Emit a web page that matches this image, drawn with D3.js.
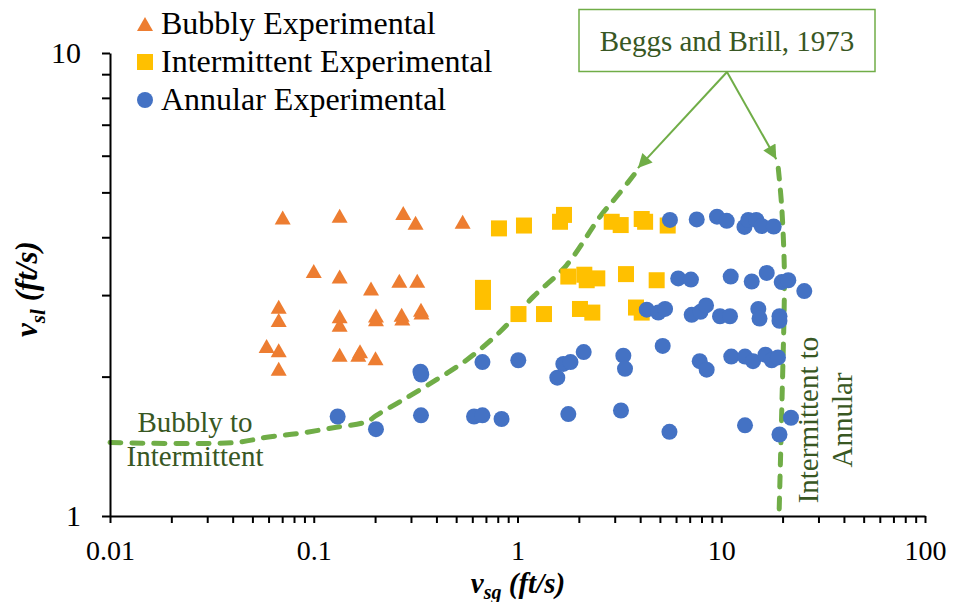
<!DOCTYPE html>
<html>
<head>
<meta charset="utf-8">
<script src="https://cdn.jsdelivr.net/npm/d3@7"></script>
<style>
  html, body { margin: 0; padding: 0; background: #fff; }
  svg { display: block; }
  svg text { font-family: "Liberation Serif", "Times New Roman", Tinos, "DejaVu Serif", "Noto Serif", serif; }
</style>
</head>
<body>
<svg id="chart" width="953" height="602"></svg>
<script>
// ---- Data ----
const seriesNames = ["Bubbly Experimental", "Intermittent Experimental", "Annular Experimental"];

const bubbly = [
  [0.0704,4.41],[0.134,4.45],[0.275,4.51],[0.316,4.30],[0.538,4.32],
  [0.100,3.38],[0.134,3.29],[0.191,3.10],[0.263,3.22],[0.322,3.22],
  [0.0673,2.83],[0.0673,2.65],[0.134,2.70],[0.134,2.59],[0.202,2.71],[0.202,2.66],
  [0.270,2.72],[0.272,2.67],[0.336,2.79],[0.338,2.75],
  [0.0587,2.33],[0.0673,2.28],[0.0673,2.08],[0.134,2.23],[0.1687,2.27],[0.1655,2.23],[0.201,2.19]
];

const intermittent = [
  [0.811,4.18],[1.076,4.24],[1.617,4.32],[1.691,4.47],[2.90,4.32],[3.21,4.25],[4.07,4.38],[4.23,4.32],[5.46,4.24],
  [0.677,3.11],[0.677,2.90],[1.776,3.29],[2.128,3.32],[2.186,3.23],[2.464,3.26],[3.408,3.33],[4.82,3.23],
  [1.011,2.73],[1.349,2.73],[2.026,2.80],[2.329,2.75],[3.816,2.82],[4.07,2.75]
];

const annular = [
  [5.60,4.36],[7.58,4.37],[9.53,4.43],[10.64,4.34],[13.0,4.21],[13.58,4.36],[14.86,4.36],[15.79,4.23],[18.09,4.22],
  [6.15,3.26],[7.10,3.24],[11.13,3.29],[14.11,3.21],[16.72,3.35],[19.80,3.20],[21.34,3.23],[25.56,3.06],
  [4.31,2.79],[4.91,2.75],[5.30,2.80],[7.16,2.72],[7.91,2.76],[8.42,2.85],[9.86,2.70],[11.04,2.70],[15.20,2.80],[15.41,2.67],[19.31,2.70],[19.31,2.64],
  [0.334,2.05],[0.337,2.02],[0.673,2.15],[1.009,2.17],[1.568,1.99],[1.678,2.13],[1.820,2.15],[2.113,2.26],[3.307,2.22],[3.370,2.08],
  [5.16,2.33],[7.84,2.16],[8.48,2.07],[11.20,2.21],[13.08,2.21],[14.32,2.16],[16.49,2.23],[17.69,2.17],[18.99,2.20],
  [0.131,1.64],[0.202,1.54],[0.336,1.65],[0.612,1.64],[0.673,1.65],[0.835,1.62],[1.776,1.66],[3.22,1.69],[5.57,1.52],[13.08,1.57],[19.31,1.50],[21.99,1.63]
];

// Beggs and Brill (1973) boundaries
const bubblyToIntermittent = [
  [0.01,1.441],[0.0402,1.44],[0.0588,1.479],[0.0856,1.509],[0.1247,1.551],[0.182,1.598],[0.204,1.652],
  [0.265,1.766],[0.386,1.950],[0.563,2.173],[0.821,2.50],[1.196,2.977],[1.744,3.484],[2.54,4.43],[3.12,4.94],[3.99,5.67]
];
const intermittentToAnnular = [
  [19.05,5.64],[19.80,4.66],[20.39,3.454],[20.39,2.93],[19.87,1.78],[19.21,1.0]
];

const xTickValues = [0.01,0.02,0.03,0.04,0.05,0.06,0.07,0.08,0.09,
                     0.1,0.2,0.3,0.4,0.5,0.6,0.7,0.8,0.9,
                     1,2,3,4,5,6,7,8,9,10,20,30,40,50,60,70,80,90,100];
const xTickLabels = ["0.01","0.1","1","10","100"];
const yTickValues = [1,2,3,4,5,6,7,8,9,10];
const yTickLabels = ["1","10"];

// ---- Styles ----
const colors = { bubbly: "#ED7D31", intermittent: "#FFC000", annular: "#4472C4", line: "#70AD47", text: "#385723" };
const serif = "'Liberation Serif', 'Times New Roman', Tinos, 'DejaVu Serif', 'Noto Serif', serif";

const svg = d3.select("#chart");

const x = d3.scaleLog().domain([0.01, 100]).range([110, 925]);
const y = d3.scaleLog().domain([1, 10]).range([516, 53]);

// ---- Boundary lines (drawn beneath markers) ----
const lineGen = d3.line().x(d => x(d[0])).y(d => y(d[1])).curve(d3.curveCatmullRom.alpha(0.5));
svg.append("path").datum(bubblyToIntermittent)
  .attr("d", lineGen).attr("fill", "none").attr("stroke", colors.line)
  .attr("stroke-width", 5).attr("stroke-linecap", "round").attr("stroke-dasharray", "11 11");
svg.append("path").datum(intermittentToAnnular)
  .attr("d", lineGen).attr("fill", "none").attr("stroke", colors.line)
  .attr("stroke-width", 5).attr("stroke-linecap", "round").attr("stroke-dasharray", "11 11");

// ---- Axes ----
const fmtX = v => { const s = d3.format("~g")(v); return xTickLabels.includes(s) ? s : ""; };
const fmtY = v => { const s = d3.format("~g")(v); return yTickLabels.includes(s) ? s : ""; };

const xAxis = svg.append("g").attr("transform", "translate(0,516)")
  .call(d3.axisBottom(x).tickValues(xTickValues).tickFormat(fmtX).tickSize(7).tickSizeOuter(0).tickPadding(17));
const yAxis = svg.append("g").attr("transform", "translate(110,0)")
  .call(d3.axisLeft(y).tickValues(yTickValues).tickFormat(fmtY).tickSize(8).tickSizeOuter(0).tickPadding(21));

[xAxis, yAxis].forEach(g => {
  g.attr("font-family", serif);
  g.select(".domain").attr("stroke", "#000").attr("stroke-width", 2);
  g.selectAll(".tick line").attr("stroke", "#000").attr("stroke-width", 2);
  g.selectAll(".tick text").attr("fill", "#000").style("font-family", serif);
});
xAxis.selectAll(".tick text").style("font-size", "28px");
yAxis.selectAll(".tick text").style("font-size", "30px");

// ---- Markers ----
const triPath = "M0,-7L8,7L-8,7Z";
svg.append("g").selectAll("path").data(bubbly).join("path")
  .attr("d", triPath).attr("transform", d => `translate(${x(d[0])},${y(d[1])})`)
  .attr("fill", colors.bubbly);

svg.append("g").selectAll("rect").data(intermittent).join("rect")
  .attr("x", d => x(d[0]) - 8).attr("y", d => y(d[1]) - 8)
  .attr("width", 16).attr("height", 16).attr("fill", colors.intermittent);

svg.append("g").selectAll("circle").data(annular).join("circle")
  .attr("cx", d => x(d[0])).attr("cy", d => y(d[1])).attr("r", 8)
  .attr("fill", colors.annular);

// ---- Legend ----
const legend = svg.append("g");
const legRows = [24, 62, 100];
legend.append("path").attr("d", triPath).attr("transform", `translate(145,${legRows[0]})`).attr("fill", colors.bubbly);
legend.append("rect").attr("x", 137).attr("y", legRows[1] - 8).attr("width", 16).attr("height", 16).attr("fill", colors.intermittent);
legend.append("circle").attr("cx", 145).attr("cy", legRows[2]).attr("r", 8).attr("fill", colors.annular);
seriesNames.forEach((n, i) => {
  legend.append("text").attr("x", 161).attr("y", legRows[i] + 10)
    .style("font-size", "32px").attr("fill", "#000").text(n);
});

// ---- Axis titles ----
const xt = svg.append("text").attr("x", 518).attr("y", 593).attr("text-anchor", "middle")
  .style("font-size", "29px").attr("font-weight", "bold").attr("font-style", "italic").attr("fill", "#000");
xt.append("tspan").text("v");
xt.append("tspan").style("font-size", "20px").attr("dy", 6).text("sg");
xt.append("tspan").attr("dy", -6).text(" (ft/s)");

const yt = svg.append("text").attr("transform", "translate(37,289) rotate(-90)").attr("text-anchor", "middle")
  .style("font-size", "31px").attr("font-weight", "bold").attr("font-style", "italic").attr("fill", "#000");
yt.append("tspan").text("v");
yt.append("tspan").style("font-size", "21px").attr("dy", 8).text("sl");
yt.append("tspan").attr("dy", -8).text(" (ft/s)");

// ---- Annotations ----
const defs = svg.append("defs");
defs.append("marker").attr("id", "arrow").attr("viewBox", "0 0 10 10").attr("refX", 10).attr("refY", 5)
  .attr("markerWidth", 8).attr("markerHeight", 7).attr("markerUnits", "strokeWidth").attr("orient", "auto")
  .append("path").attr("d", "M0,0L10,5L0,10Z").attr("fill", colors.line);

const boxAnchor = [727, 72];
svg.append("line").attr("x1", boxAnchor[0]).attr("y1", boxAnchor[1])
  .attr("x2", x(bubblyToIntermittent[bubblyToIntermittent.length - 1][0]) - 2)
  .attr("y2", y(bubblyToIntermittent[bubblyToIntermittent.length - 1][1]) + 1)
  .attr("stroke", colors.line).attr("stroke-width", 2).attr("marker-end", "url(#arrow)");
svg.append("line").attr("x1", boxAnchor[0]).attr("y1", boxAnchor[1])
  .attr("x2", x(intermittentToAnnular[0][0]) - 2).attr("y2", y(intermittentToAnnular[0][1]) - 9)
  .attr("stroke", colors.line).attr("stroke-width", 2).attr("marker-end", "url(#arrow)");

svg.append("rect").attr("x", 579).attr("y", 9.5).attr("width", 296).attr("height", 62)
  .attr("fill", "#fff").attr("stroke", colors.line).attr("stroke-width", 1.5);
svg.append("text").attr("x", 727).attr("y", 51).attr("text-anchor", "middle")
  .style("font-size", "29px").attr("fill", colors.text).text("Beggs and Brill, 1973");

const bt = svg.append("text").attr("text-anchor", "middle").style("font-size", "29px").attr("fill", colors.text);
bt.append("tspan").attr("x", 195).attr("y", 432).text("Bubbly to");
bt.append("tspan").attr("x", 195).attr("y", 466).text("Intermittent");

const at = svg.append("text").attr("transform", "translate(818,420) rotate(-90)")
  .attr("text-anchor", "middle").style("font-size", "29px").attr("fill", colors.text);
at.append("tspan").attr("x", 0).attr("y", 0).text("Intermittent to");
at.append("tspan").attr("x", 0).attr("y", 34).text("Annular");
</script>
</body>
</html>
